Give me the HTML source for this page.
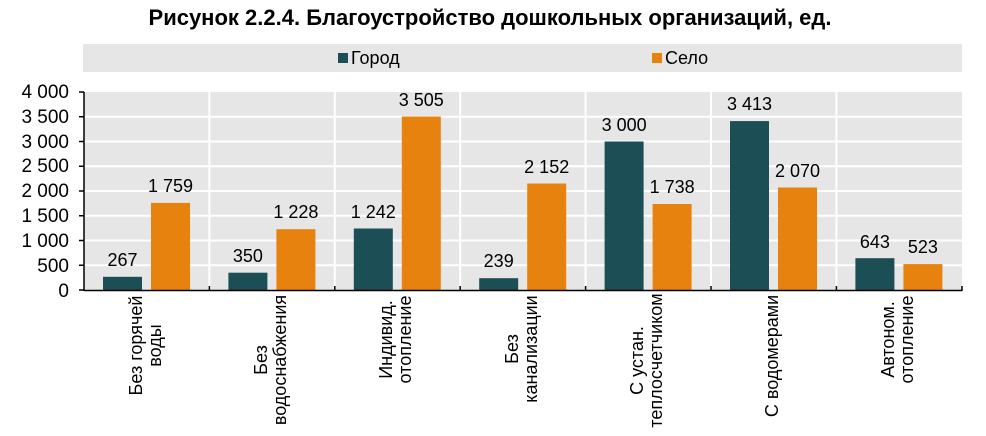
<!DOCTYPE html>
<html><head><meta charset="utf-8"><style>body{margin:0;background:#fff}svg{display:block}text{font-family:"Liberation Sans",Arial,sans-serif}</style></head><body>
<svg width="986" height="436" xmlns="http://www.w3.org/2000/svg">
<text x="490" y="25" text-anchor="middle" font-size="22" font-weight="bold" fill="#000">Рисунок 2.2.4. Благоустройство дошкольных организаций, ед.</text>
<rect x="83" y="44" width="879" height="28" fill="#e6e6e6"/>
<rect x="338" y="53" width="10" height="10" fill="#1b4e55"/>
<text x="351" y="64" font-size="18" fill="#000">Город</text>
<rect x="652" y="53" width="10" height="10" fill="#e8820f"/>
<text x="665" y="64" font-size="18" fill="#000">Село</text>
<rect x="84" y="92" width="878" height="198" fill="#e6e6e6"/>
<g stroke="#fff" stroke-width="2">
<line x1="84" x2="962" y1="116.75" y2="116.75"/><line x1="84" x2="962" y1="141.5" y2="141.5"/><line x1="84" x2="962" y1="166.25" y2="166.25"/><line x1="84" x2="962" y1="191" y2="191"/><line x1="84" x2="962" y1="215.75" y2="215.75"/><line x1="84" x2="962" y1="240.5" y2="240.5"/><line x1="84" x2="962" y1="265.25" y2="265.25"/>
<line x1="209.4" x2="209.4" y1="92" y2="290"/><line x1="334.8" x2="334.8" y1="92" y2="290"/><line x1="460.2" x2="460.2" y1="92" y2="290"/><line x1="585.6" x2="585.6" y1="92" y2="290"/><line x1="711" x2="711" y1="92" y2="290"/><line x1="836.4" x2="836.4" y1="92" y2="290"/>
</g>
<g font-size="19" fill="#000" text-anchor="end">
<text x="69" y="98">4 000</text><text x="69" y="123">3 500</text><text x="69" y="148">3 000</text><text x="69" y="172">2 500</text><text x="69" y="197">2 000</text><text x="69" y="222">1 500</text><text x="69" y="247">1 000</text><text x="69" y="272">500</text><text x="69" y="297">0</text>
</g>
<g fill="#1b4e55">
<rect x="103" y="276.8" width="39" height="13.2"/>
<rect x="228.4" y="272.7" width="39" height="17.3"/>
<rect x="353.8" y="228.5" width="39" height="61.5"/>
<rect x="479.2" y="278.2" width="39" height="11.8"/>
<rect x="604.6" y="141.5" width="39" height="148.5"/>
<rect x="730" y="121.1" width="39" height="168.9"/>
<rect x="855.4" y="258.2" width="39" height="31.8"/>
</g>
<g fill="#e8820f">
<rect x="151" y="202.9" width="39" height="87.1"/>
<rect x="276.4" y="229.2" width="39" height="60.8"/>
<rect x="401.8" y="116.5" width="39" height="173.5"/>
<rect x="527.2" y="183.5" width="39" height="106.5"/>
<rect x="652.6" y="204" width="39" height="86"/>
<rect x="778" y="187.5" width="39" height="102.5"/>
<rect x="903.4" y="264.1" width="39" height="25.9"/>
</g>
<g font-size="18" fill="#000" text-anchor="middle">
<text x="122.5" y="266">267</text>
<text x="247.9" y="262">350</text>
<text x="373.3" y="218">1 242</text>
<text x="498.7" y="267">239</text>
<text x="624.1" y="131">3 000</text>
<text x="749.5" y="110">3 413</text>
<text x="874.9" y="248">643</text>
<text x="170.5" y="192">1 759</text>
<text x="295.9" y="218">1 228</text>
<text x="421.3" y="106">3 505</text>
<text x="546.7" y="173">2 152</text>
<text x="672.1" y="193">1 738</text>
<text x="797.5" y="177">2 070</text>
<text x="922.9" y="253">523</text>
</g>
<g stroke="#000" stroke-width="1.5">
<line x1="84" x2="84" y1="92" y2="291"/><line x1="84" x2="962" y1="290.5" y2="290.5"/>
<line x1="79" x2="84" y1="92" y2="92"/><line x1="79" x2="84" y1="116.75" y2="116.75"/><line x1="79" x2="84" y1="141.5" y2="141.5"/><line x1="79" x2="84" y1="166.25" y2="166.25"/><line x1="79" x2="84" y1="191" y2="191"/><line x1="79" x2="84" y1="215.75" y2="215.75"/><line x1="79" x2="84" y1="240.5" y2="240.5"/><line x1="79" x2="84" y1="265.25" y2="265.25"/><line x1="79" x2="84" y1="290" y2="290"/>
<line x1="209.4" x2="209.4" y1="286" y2="291"/><line x1="334.8" x2="334.8" y1="286" y2="291"/><line x1="460.2" x2="460.2" y1="286" y2="291"/><line x1="585.6" x2="585.6" y1="286" y2="291"/><line x1="711" x2="711" y1="286" y2="291"/><line x1="836.4" x2="836.4" y1="286" y2="291"/><line x1="962" x2="962" y1="286" y2="291"/>
</g>
<g font-size="18" fill="#000" text-anchor="middle">
<text transform="translate(142,345.5) rotate(-90)">Без горячей</text><text transform="translate(161,345.5) rotate(-90)">воды</text>
<text transform="translate(267,360) rotate(-90)">Без</text><text transform="translate(286,360) rotate(-90)">водоснабжения</text>
<text transform="translate(392,339.5) rotate(-90)">Индивид.</text><text transform="translate(411,339.5) rotate(-90)">отопление</text>
<text transform="translate(518,349) rotate(-90)">Без</text><text transform="translate(537,349) rotate(-90)">канализации</text>
<text transform="translate(643,360.5) rotate(-90)">С устан.</text><text transform="translate(662,360.5) rotate(-90)">теплосчетчиком</text>
<text transform="translate(778,356) rotate(-90)">С водомерами</text>
<text transform="translate(894,339.5) rotate(-90)">Автоном.</text><text transform="translate(913,339.5) rotate(-90)">отопление</text>
</g>
</svg>
</body></html>
